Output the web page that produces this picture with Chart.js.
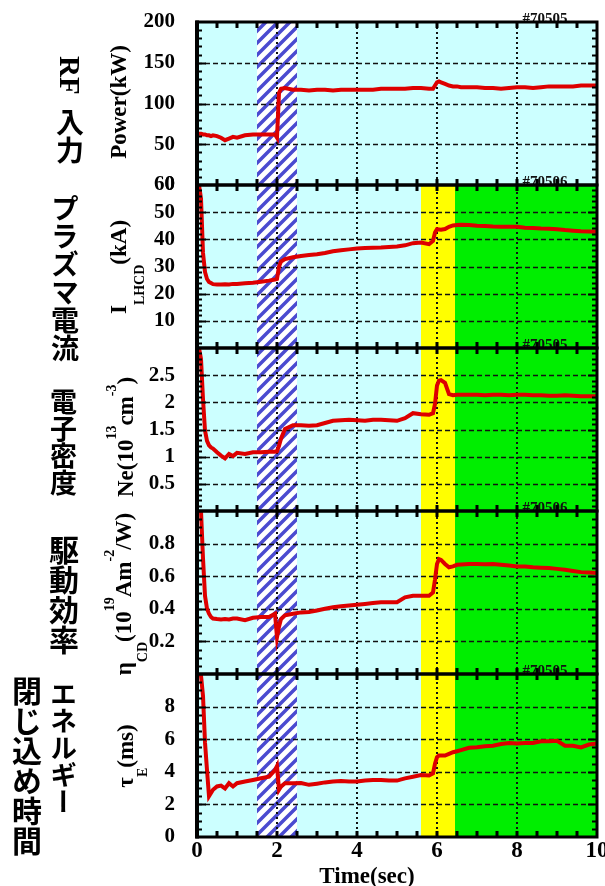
<!DOCTYPE html>
<html>
<head>
<meta charset="utf-8">
<script src="https://cdn.jsdelivr.net/npm/chart.js@4.4.1/dist/chart.umd.min.js"></script>
<style>
  body { margin: 0; background: #fff; }
  #wrap { position: relative; width: 605px; height: 886px; }
  .jp { position: absolute; writing-mode: vertical-rl; font-family: "Noto Sans CJK JP"; font-weight: 700; line-height: 1; color: #000; white-space: nowrap; }
  .jp .lat { font-family: "Liberation Serif"; font-weight: bold; }
  .yt { position: absolute; font-family: "Liberation Serif"; font-weight: bold; font-size: 23px; line-height: 1; color: #000; white-space: nowrap; transform: translate(-50%, -50%) rotate(-90deg); }
  .yt .sub { font-size: 14px; position: relative; top: 16px; }
  .yt .sup { font-size: 14px; position: relative; top: -17px; }
  .xt { position: absolute; left: 367px; top: 875px; transform: translate(-50%, -50%); font-family: "Liberation Serif"; font-weight: bold; font-size: 23px; line-height: 1; white-space: nowrap; }
</style>
</head>
<body>
<div id="wrap">
  <canvas id="chartShot" width="605" height="886"></canvas>

  <div class="jp" style="left:55px; top:56px; font-size:28px;"><span class="lat" style="font-size:29px; margin-bottom:14px;">RF</span>入力</div>
  <div class="jp" style="left:51px; top:194px; font-size:28px;">プラズマ電流</div>
  <div class="jp" style="left:50px; top:388px; font-size:27px;">電子密度</div>
  <div class="jp" style="left:49px; top:535px; font-size:30px;">駆動効率</div>
  <div class="jp" style="left:50px; top:680px; font-size:27px;">エネルギー</div>
  <div class="jp" style="left:12px; top:676px; font-size:30px;">閉じ込め時間</div>

  <div class="yt" style="left:118px; top:102px;">Power(kW)</div>
  <div class="yt" style="left:118px; top:267px;">I<span class="sub" style="top:18px;">LHCD</span>(kA)</div>
  <div class="yt" style="left:125px; top:437px;">Ne(10<span class="sup">13</span>cm<span class="sup">-3</span>)</div>
  <div class="yt" style="left:123px; top:594px;">η<span class="sub">CD</span>(10<span class="sup">19</span>Am<span class="sup">-2</span>/W)</div>
  <div class="yt" style="left:125px; top:756px;">τ<span class="sub" style="top:14px;">E</span>(ms)</div>

  <div class="xt">Time(sec)</div>
</div>

<script>
// time base (sec)
const time = [0.05, 0.1, 0.15, 0.2, 0.25, 0.3, 0.35, 0.4, 0.5, 0.6, 0.7, 0.8, 0.9, 1.0,
  1.2, 1.4, 1.6, 1.8, 1.95, 2.0, 2.05, 2.1, 2.2, 2.4, 2.6, 2.8, 3.0, 3.2, 3.4, 3.6, 3.8, 4.0,
  4.2, 4.4, 4.6, 4.8, 5.0, 5.2, 5.4, 5.6, 5.8, 5.9, 5.95, 6.0, 6.05, 6.1, 6.2, 6.3, 6.4, 6.5,
  6.6, 6.8, 7.0, 7.2, 7.4, 7.6, 7.8, 8.0, 8.2, 8.4, 8.6, 8.8, 9.0, 9.2, 9.4, 9.6, 9.8, 10.0];

// RF power (kW)
const power = [63, 63, 62, 62, 61, 61, 60, 61, 60, 58, 55, 57, 59, 58,
  61, 62, 62, 62, 62, 58, 113, 118, 119, 117, 117, 116, 117, 117, 116, 117, 117, 117,
  117, 117, 118, 118, 118, 118, 119, 119, 118, 118, 122, 126, 127, 126, 124, 122, 121, 121,
  120, 120, 120, 119, 119, 118, 119, 120, 120, 119, 120, 121, 121, 121, 121, 122, 122, 122];

// plasma current I_LHCD (kA)
const current = [60, 55, 35, 28, 25.4, 24.3, 23.9, 23.5, 23.4, 23.4, 23.5, 23.4, 23.6, 23.6,
  23.8, 24.0, 24.4, 24.8, 25.2, 25.4, 30, 31.8, 32.7, 33.4, 33.9, 34.2, 34.5, 35.0, 35.6, 36.0, 36.3, 36.6,
  36.8, 36.9, 37.0, 37.2, 37.4, 37.8, 38.6, 38.8, 38.2, 39.4, 42.5, 43.7, 43.6, 43.5, 43.8, 44.6, 45.1, 45.3,
  45.4, 45.3, 45.0, 44.9, 44.7, 44.6, 44.6, 44.6, 44.3, 44.2, 44.0, 43.9, 43.7, 43.4, 43.2, 43.0, 42.9, 42.8];

// electron density (1e13 cm^-3)
const density = [3.0, 2.8, 2.06, 1.48, 1.29, 1.21, 1.17, 1.15, 1.08, 1.02, 0.97, 1.05, 1.01, 1.07,
  1.05, 1.08, 1.08, 1.09, 1.09, 1.10, 1.2, 1.33, 1.51, 1.58, 1.58, 1.57, 1.58, 1.62, 1.66, 1.67, 1.68, 1.67,
  1.66, 1.68, 1.68, 1.67, 1.66, 1.71, 1.80, 1.78, 1.77, 1.80, 1.97, 2.31, 2.40, 2.41, 2.36, 2.15, 2.13, 2.14,
  2.14, 2.14, 2.14, 2.13, 2.14, 2.14, 2.13, 2.14, 2.14, 2.13, 2.13, 2.12, 2.12, 2.13, 2.12, 2.11, 2.11, 2.11];

// current drive efficiency (1e19 A m^-2 / W)
const eta = [1.0, 1.0, 0.71, 0.48, 0.40, 0.37, 0.35, 0.34, 0.337, 0.335, 0.337, 0.335, 0.34, 0.34,
  0.33, 0.345, 0.35, 0.35, 0.37, 0.225, 0.29, 0.337, 0.36, 0.37, 0.378, 0.38, 0.39, 0.40, 0.41, 0.415, 0.42, 0.425,
  0.43, 0.435, 0.44, 0.44, 0.44, 0.47, 0.48, 0.48, 0.48, 0.50, 0.58, 0.675, 0.705, 0.70, 0.675, 0.655, 0.66, 0.67,
  0.672, 0.675, 0.675, 0.673, 0.675, 0.67, 0.665, 0.66, 0.66, 0.655, 0.652, 0.65, 0.645, 0.64, 0.632, 0.625, 0.622, 0.62];

// energy confinement time (ms)
const tauE = [10, 9.9, 8.66, 5.8, 4.1, 2.5, 2.7, 2.9, 3.1, 3.15, 2.98, 3.3, 3.1, 3.3,
  3.4, 3.5, 3.6, 3.7, 4.1, 4.35, 2.9, 3.1, 3.3, 3.3, 3.31, 3.2, 3.27, 3.35, 3.4, 3.44, 3.4, 3.4,
  3.46, 3.5, 3.5, 3.46, 3.46, 3.6, 3.7, 3.8, 3.77, 3.9, 4.5, 4.9, 5.0, 5.0, 5.0, 5.1, 5.2, 5.26,
  5.33, 5.47, 5.5, 5.57, 5.6, 5.7, 5.77, 5.73, 5.77, 5.77, 5.87, 5.87, 5.9, 5.6, 5.6, 5.5, 5.67, 5.73];

// phases (sec)
const hatchSpan = [1.5, 2.5];
const yellowSpan = [5.6, 6.45];
const greenSpan = [6.45, 10];
const shotLabels = ['#70505', '#70506', '#70505', '#70506', '#70505'];

const panelAxes = ['yPower', 'yCurrent', 'yDensity', 'yEta', 'yTau'];
const phasePanels = [false, true, true, true, true];
const minorStep = [10, 2, 0.1, 0.05, 0.5];
const majorStep = [50, 10, 0.5, 0.2, 2];

const tickFont = { family: 'Liberation Serif', size: 21, weight: 'bold' };

function makeHatch() {
  const c = document.createElement('canvas');
  c.width = 12; c.height = 12;
  const g = c.getContext('2d');
  g.fillStyle = '#fff';
  g.fillRect(0, 0, 12, 12);
  g.strokeStyle = '#4a4ad0';
  g.lineWidth = 3.5;
  g.beginPath();
  g.moveTo(-6, 6); g.lineTo(6, -6);
  g.moveTo(0, 12); g.lineTo(12, 0);
  g.moveTo(6, 18); g.lineTo(18, 6);
  g.stroke();
  return c;
}

const panelPlugin = {
  id: 'panels',
  beforeDatasetsDraw(chart) {
    const { ctx, chartArea: a, scales } = chart;
    const xs = scales.x;
    const px = v => xs.getPixelForValue(v);
    const hatch = ctx.createPattern(makeHatch(), 'repeat');
    ctx.save();
    panelAxes.forEach((id, i) => {
      const ys = scales[id];
      const top = ys.top, h = ys.bottom - ys.top;
      ctx.fillStyle = '#ccffff';
      ctx.fillRect(a.left, top, a.right - a.left, h);
      if (phasePanels[i]) {
        ctx.fillStyle = '#ffff00';
        ctx.fillRect(px(yellowSpan[0]), top, px(yellowSpan[1]) - px(yellowSpan[0]), h);
        ctx.fillStyle = '#00ee00';
        ctx.fillRect(px(greenSpan[0]), top, px(greenSpan[1]) - px(greenSpan[0]), h);
      }
      ctx.fillStyle = hatch;
      ctx.fillRect(px(hatchSpan[0]), top, px(hatchSpan[1]) - px(hatchSpan[0]), h);
    });

    // shot numbers
    ctx.fillStyle = '#111';
    ctx.font = 'bold 15px "Liberation Serif"';
    ctx.textAlign = 'center';
    ctx.textBaseline = 'alphabetic';
    panelAxes.forEach((id, i) => {
      ctx.fillText(shotLabels[i], 545, scales[id].top + 1);
    });

    // horizontal dashed grid
    ctx.strokeStyle = '#111';
    ctx.lineWidth = 1.5;
    ctx.setLineDash([5, 3]);
    panelAxes.forEach(id => {
      const ys = scales[id];
      ys.ticks.forEach(t => {
        if (t.value <= ys.min || t.value >= ys.max) return;
        const y = Math.round(ys.getPixelForValue(t.value)) + 0.5;
        ctx.beginPath();
        ctx.moveTo(a.left, y);
        ctx.lineTo(a.right, y);
        ctx.stroke();
      });
    });

    // vertical dotted grid
    ctx.lineWidth = 2;
    ctx.setLineDash([2, 3]);
    xs.ticks.forEach(t => {
      if (t.value <= xs.min || t.value >= xs.max) return;
      const x = Math.round(px(t.value));
      ctx.beginPath();
      ctx.moveTo(x, a.top);
      ctx.lineTo(x, a.bottom);
      ctx.stroke();
    });
    ctx.restore();
  },
  afterDatasetsDraw(chart) {
    const { ctx, chartArea: a, scales } = chart;
    const xs = scales.x;
    ctx.save();
    ctx.strokeStyle = '#000';
    ctx.setLineDash([]);
    panelAxes.forEach((id, i) => {
      const ys = scales[id];
      // side ticks
      ctx.lineWidth = 2;
      const n = Math.round((ys.max - ys.min) / minorStep[i]);
      for (let k = 1; k < n; k++) {
        const v = ys.min + k * minorStep[i];
        const y = Math.round(ys.getPixelForValue(v)) + 0.5;
        const r = v / majorStep[i];
        const len = Math.abs(r - Math.round(r)) < 1e-6 ? 9 : 5;
        ctx.beginPath();
        ctx.moveTo(a.left, y); ctx.lineTo(a.left + len, y);
        ctx.moveTo(a.right, y); ctx.lineTo(a.right - len, y);
        ctx.stroke();
      }
      // time ticks on top and bottom edges
      ctx.lineWidth = 3;
      for (let k = 1; k < 20; k++) {
        const x = Math.round(xs.getPixelForValue(k * 0.5));
        ctx.beginPath();
        ctx.moveTo(x, ys.top); ctx.lineTo(x, ys.top + 6);
        ctx.moveTo(x, ys.bottom); ctx.lineTo(x, ys.bottom - 6);
        ctx.stroke();
      }
      ctx.lineWidth = 3;
      ctx.strokeRect(a.left, ys.top, a.right - a.left, ys.bottom - ys.top);
    });
    ctx.lineWidth = 4;
    ctx.beginPath();
    ctx.moveTo(a.left, a.top - 1.5);
    ctx.lineTo(a.left, a.bottom + 1.5);
    ctx.stroke();
    ctx.restore();
  }
};

function yScale(min, max, step, weight, show) {
  return {
    type: 'linear',
    position: 'left',
    stack: 'panels',
    stackWeight: 1,
    weight: weight,
    min: min,
    max: max,
    afterFit: s => { s.width = 197; s.paddingTop = 0; s.paddingBottom = 0; },
    grid: { display: false, drawTicks: false },
    border: { display: false },
    ticks: { stepSize: step, padding: 22, color: '#000', font: tickFont, autoSkip: false, callback: show }
  };
}

function series(values, axis) {
  return {
    data: time.map((t, i) => ({ x: t, y: values[i] })),
    yAxisID: axis,
    borderColor: '#dd0000',
    borderWidth: 4,
    pointRadius: 0,
    tension: 0,
    fill: false
  };
}

const config = {
  type: 'line',
  data: {
    datasets: [
      series(power, 'yPower'),
      series(current, 'yCurrent'),
      series(density, 'yDensity'),
      series(eta, 'yEta'),
      series(tauE, 'yTau')
    ]
  },
  options: {
    responsive: false,
    animation: false,
    layout: { padding: { top: 22, right: 8, left: 0, bottom: 0 } },
    plugins: { legend: { display: false }, tooltip: { enabled: false } },
    scales: {
      x: {
        type: 'linear',
        min: 0,
        max: 10,
        afterFit: s => { s.height = 49; s.paddingLeft = 0; s.paddingRight = 0; },
        grid: { display: false, drawTicks: false },
        border: { display: false },
        ticks: { stepSize: 2, padding: 0, maxRotation: 0, color: '#000', font: { family: 'Liberation Serif', size: 23, weight: 'bold' } }
      },
      yPower: yScale(0, 200, 50, 5, v => v),
      yCurrent: yScale(0, 60, 10, 4, v => (v > 0 ? v : '')),
      yDensity: yScale(0, 3, 0.5, 3, v => (v > 0 && v < 3 ? v : '')),
      yEta: yScale(0, 1, 0.2, 2, v => (v > 0.01 && v < 0.99 ? Math.round(v * 10) / 10 : '')),
      yTau: yScale(0, 10, 2, 1, v => (v < 10 ? v : ''))
    }
  },
  plugins: [panelPlugin]
};

const chartShot = new Chart(document.getElementById('chartShot'), config);
</script>
</body>
</html>
